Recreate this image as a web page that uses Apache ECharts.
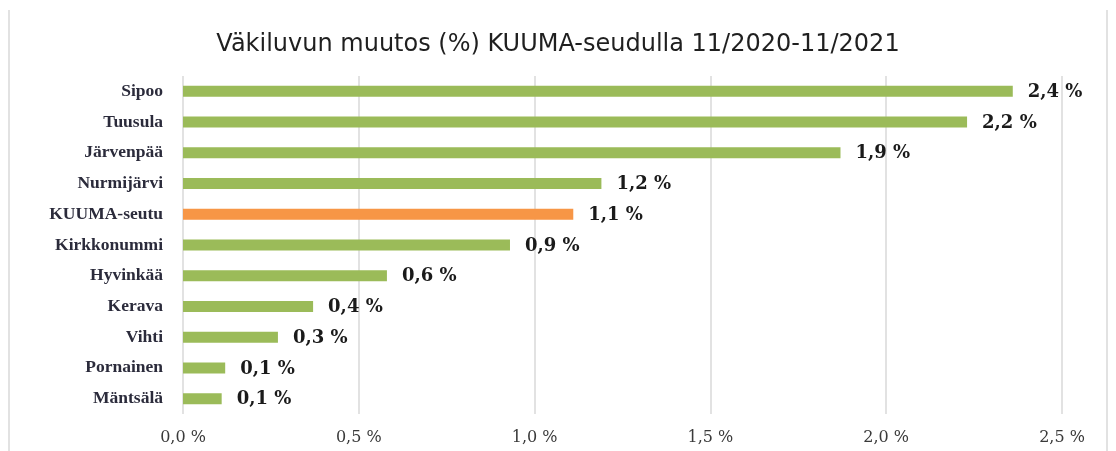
<!DOCTYPE html>
<html style="height: 100%">
<head>
    <meta charset="utf-8">
    <style>
        html, body { height: 100%; margin: 0; overflow: hidden; background: #fff; }
        #container { width: 1116px; height: 451px; }
    </style>
    <title>Väkiluvun muutos</title>
</head>
<body>
<div id="container"></div>
<script src="https://cdn.jsdelivr.net/npm/echarts@6/dist/echarts.min.js"></script>
<script type="text/javascript">
// kunnat ylhäältä alas
var municipalities = ['Sipoo', 'Tuusula', 'Järvenpää', 'Nurmijärvi', 'KUUMA-seutu',
    'Kirkkonummi', 'Hyvinkää', 'Kerava', 'Vihti', 'Pornainen', 'Mäntsälä'];
// muutos % (luettu kuvasta)
var changePct = [2.36, 2.23, 1.87, 1.19, 1.11, 0.93, 0.58, 0.37, 0.27, 0.12, 0.11];
var xTicks = [0, 0.5, 1.0, 1.5, 2.0, 2.5];

var green = '#9BBB59';
var orange = '#F79646';

var chart = echarts.init(document.getElementById('container'));

var barData = [];
for (var i = 0; i < municipalities.length; i++) {
    barData.push({
        value: changePct[i],
        itemStyle: { color: municipalities[i] === 'KUUMA-seutu' ? orange : green }
    });
}

var option = {
    animation: false,
    title: {
        text: 'Väkiluvun muutos (%) KUUMA-seudulla 11/2020-11/2021',
        left: 'center',
        top: 28,
        textStyle: {
            fontFamily: 'DejaVu Sans',
            fontWeight: 'normal',
            fontSize: 24,
            color: '#1f1f1f'
        }
    },
    grid: { left: 183, right: 54, top: 76, bottom: 37 },
    xAxis: {
        type: 'value',
        min: xTicks[0],
        max: xTicks[xTicks.length - 1],
        interval: 0.5,
        axisLine: { show: false },
        axisTick: { show: false },
        splitLine: { lineStyle: { color: '#d9d9d9', width: 1.5 } },
        axisLabel: {
            margin: 16,
            fontFamily: 'DejaVu Serif',
            fontSize: 16,
            color: '#3a3a3a',
            formatter: function (v) { return v.toFixed(1).replace('.', ',') + ' %'; }
        }
    },
    yAxis: {
        type: 'category',
        inverse: true,
        data: municipalities,
        axisLine: { show: false },
        axisTick: { show: false },
        axisLabel: {
            margin: 20,
            fontFamily: 'Liberation Serif',
            fontWeight: 'bold',
            fontSize: 17.5,
            color: '#2b2b3b'
        }
    },
    series: [{
        type: 'bar',
        data: barData,
        barWidth: 11,
        label: {
            show: true,
            position: 'right',
            distance: 15,
            offset: [0, 1],
            fontFamily: 'DejaVu Serif',
            fontWeight: 'bold',
            fontSize: 18,
            color: '#1a1a1a',
            formatter: function (p) { return p.value.toFixed(1).replace('.', ',') + ' %'; }
        }
    }],
    graphic: [
        { type: 'line', shape: { x1: 9, y1: 10, x2: 9, y2: 451 }, style: { stroke: '#d9d9d9', lineWidth: 1.5 } },
        { type: 'line', shape: { x1: 1107, y1: 10, x2: 1107, y2: 451 }, style: { stroke: '#d9d9d9', lineWidth: 1.5 } }
    ]
};

chart.setOption(option);
</script>
</body>
</html>
